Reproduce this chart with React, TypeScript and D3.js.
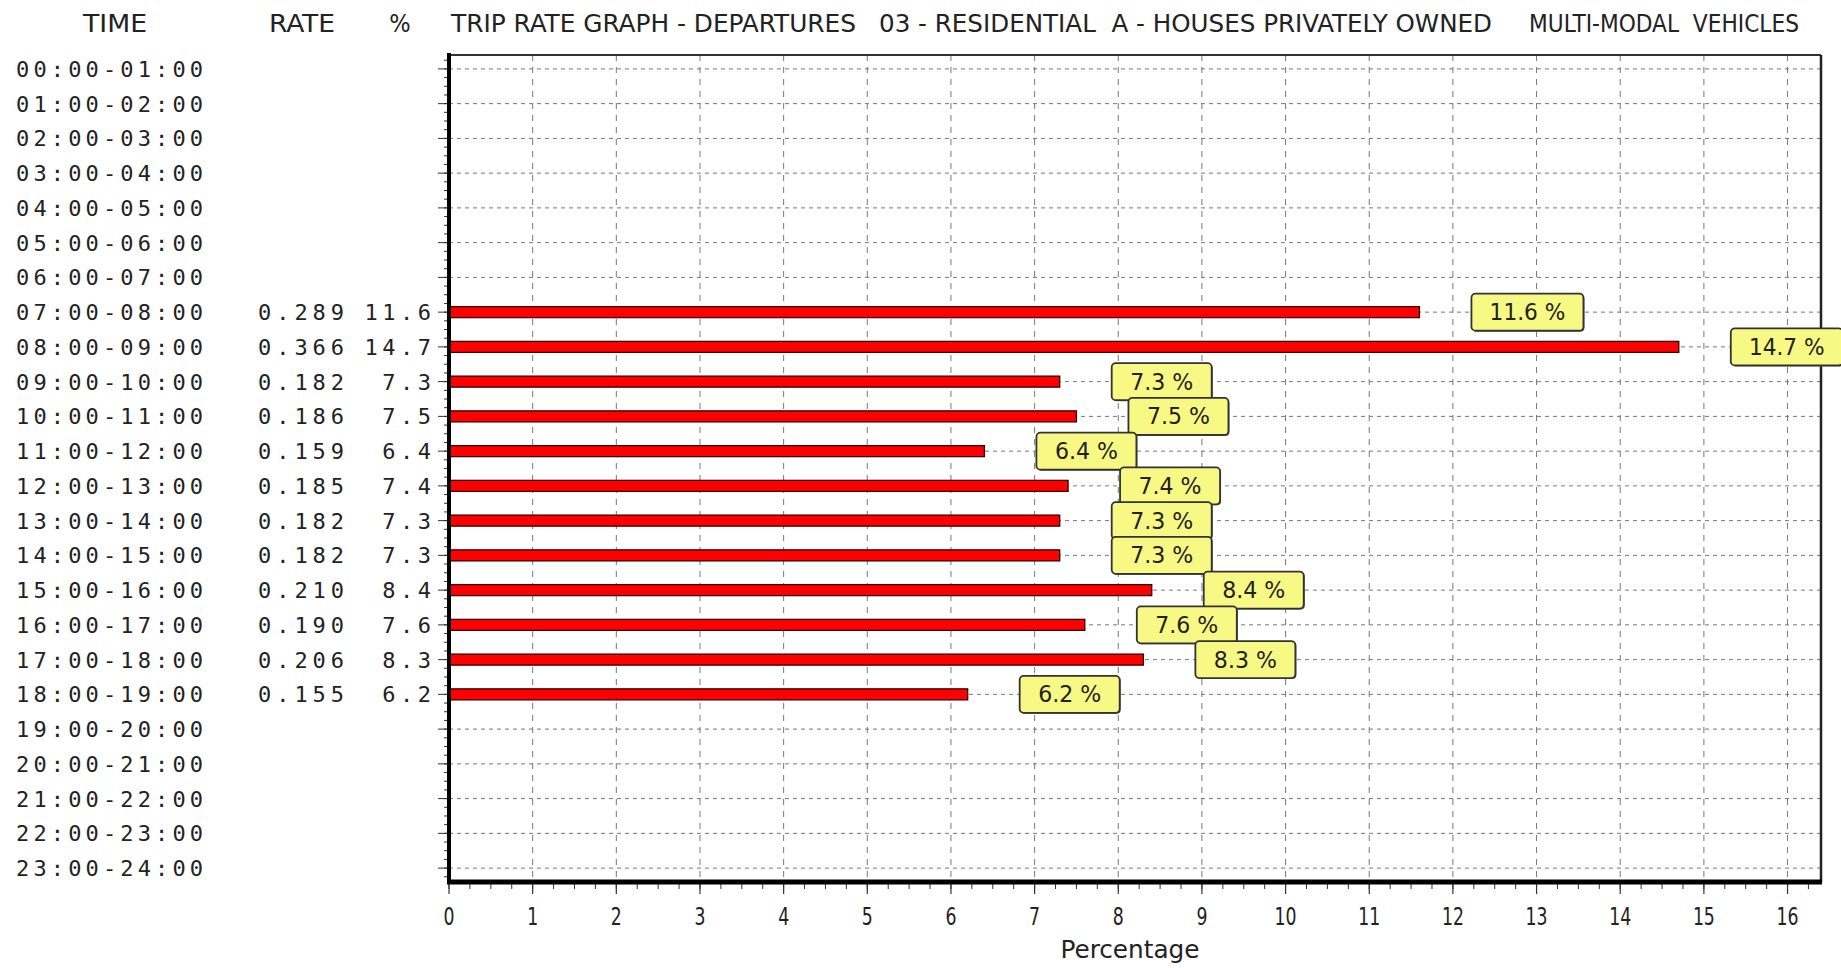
import React from "react";
import * as d3 from "d3";

const timeBands = [
  "00:00-01:00", "01:00-02:00", "02:00-03:00", "03:00-04:00", "04:00-05:00",
  "05:00-06:00", "06:00-07:00", "07:00-08:00", "08:00-09:00", "09:00-10:00",
  "10:00-11:00", "11:00-12:00", "12:00-13:00", "13:00-14:00", "14:00-15:00",
  "15:00-16:00", "16:00-17:00", "17:00-18:00", "18:00-19:00", "19:00-20:00",
  "20:00-21:00", "21:00-22:00", "22:00-23:00", "23:00-24:00",
];

const rateValues: (number | null)[] = [
  null, null, null, null, null, null, null,
  0.289, 0.366, 0.182, 0.186, 0.159, 0.185, 0.182, 0.182, 0.21, 0.19, 0.206, 0.155,
  null, null, null, null, null,
];

const percentValues: (number | null)[] = [
  null, null, null, null, null, null, null,
  11.6, 14.7, 7.3, 7.5, 6.4, 7.4, 7.3, 7.3, 8.4, 7.6, 8.3, 6.2,
  null, null, null, null, null,
];

const xTickValues = [0, 1, 2, 3, 4, 5, 6, 7, 8, 9, 10, 11, 12, 13, 14, 15, 16];

const titleParts = [
  { text: "TRIP RATE GRAPH - DEPARTURES", x0: 451, x1: 856 },
  { text: "03 - RESIDENTIAL  A - HOUSES PRIVATELY OWNED", x0: 879, x1: 1492 },
  { text: "MULTI-MODAL  VEHICLES", x0: 1529, x1: 1799 },
];

const W = 1841;
const H = 968;
const left = 449;
const right = 1821;
const top = 55;
const bottom = 882;

const mono = "'DejaVu Sans Mono', 'Liberation Mono', monospace";
const narrow = "'Liberation Sans Narrow', 'DejaVu Sans Condensed', 'Liberation Sans', Arial, sans-serif";

export default function App() {
  const x = d3.scaleLinear().domain([0, 16.4]).range([left, right]);
  const y = d3.scalePoint<string>().domain(timeBands).range([top, bottom]).padding(0.4);
  const step = y.step();
  const fmtRate = d3.format(".3f");
  const fmtPct = d3.format(".1f");

  const minorX = d3.range(0, 16.4, 0.25);
  const minorY = d3.range(top + step * 0.4 - step, bottom, step / 4).filter((v) => v > top && v < bottom);

  return (
    <svg
      width={W}
      height={H}
      style={{ position: "absolute", left: 0, top: 0, display: "block", background: "#fff" }}
    >
      {/* headers */}
      <text x={115} y={32} fontFamily={narrow} fontSize={25} textAnchor="middle" textLength={64} lengthAdjust="spacingAndGlyphs" fill="#222">TIME</text>
      <text x={302} y={32} fontFamily={narrow} fontSize={25} textAnchor="middle" textLength={66} lengthAdjust="spacingAndGlyphs" fill="#222">RATE</text>
      <text x={400} y={32} fontFamily={narrow} fontSize={25} textAnchor="middle" fill="#222">%</text>
      {titleParts.map((p) => (
        <text key={p.text} x={p.x0} y={32} fontFamily={narrow} fontSize={25} textLength={p.x1 - p.x0} lengthAdjust="spacingAndGlyphs" fill="#222" xmlSpace="preserve">
          {p.text}
        </text>
      ))}

      {/* horizontal grid */}
      {timeBands.map((t) => (
        <line key={"hg" + t} x1={left} x2={right} y1={y(t)} y2={y(t)} stroke="#777" strokeWidth={1} strokeDasharray="4 4" />
      ))}
      {/* vertical grid */}
      {xTickValues.filter((v) => v > 0).map((v) => (
        <line key={"vg" + v} x1={x(v)} x2={x(v)} y1={top} y2={bottom} stroke="#777" strokeWidth={1} strokeDasharray="6 6" />
      ))}

      {/* bars */}
      {timeBands.map((t, i) => {
        const v = percentValues[i];
        if (v == null) return null;
        return (
          <rect key={"b" + t} x={x(0)} y={(y(t) as number) - 5.5} width={x(v) - x(0)} height={11} fill="#f00" stroke="#300" strokeWidth={1.3} />
        );
      })}

      {/* frame */}
      <line x1={left} x2={right} y1={top} y2={top} stroke="#333" strokeWidth={2} />
      <line x1={right} x2={right} y1={top} y2={bottom} stroke="#222" strokeWidth={2.5} />
      {/* left axis ticks */}
      {minorY.map((v, i) => (
        <line key={"my" + i} x1={left - 5} x2={left} y1={v} y2={v} stroke="#333" strokeWidth={1} />
      ))}
      {timeBands.map((t) => (
        <line key={"ty" + t} x1={left - 11} x2={left} y1={y(t)} y2={y(t)} stroke="#333" strokeWidth={1} />
      ))}
      {/* bottom axis ticks */}
      {minorX.map((v, i) => (
        <line key={"mx" + i} x1={x(v)} x2={x(v)} y1={bottom} y2={bottom + 7} stroke="#333" strokeWidth={1} />
      ))}
      {xTickValues.map((v) => (
        <line key={"tx" + v} x1={x(v)} x2={x(v)} y1={bottom} y2={bottom + 12} stroke="#333" strokeWidth={1.2} />
      ))}
      <line x1={left} x2={left} y1={top - 2} y2={bottom + 2} stroke="#000" strokeWidth={4} />
      <line x1={left - 2} x2={right + 1} y1={bottom} y2={bottom} stroke="#000" strokeWidth={5} />

      {/* x tick labels */}
      {xTickValues.map((v) => (
        <text key={"xl" + v} x={x(v)} y={925} fontFamily={narrow} fontSize={25} textAnchor="middle" textLength={String(v).length * 11} lengthAdjust="spacingAndGlyphs" fill="#222">
          {v}
        </text>
      ))}
      <text x={1130} y={958} fontFamily={narrow} fontSize={24} textAnchor="middle" textLength={139} lengthAdjust="spacingAndGlyphs" fill="#222">Percentage</text>

      {/* left table */}
      {timeBands.map((t, i) => {
        const cy = y(t) as number;
        const r = rateValues[i];
        const p = percentValues[i];
        const ps = p == null ? "" : fmtPct(p);
        return (
          <g key={"row" + t} fontFamily={mono} fontSize={22} fill="#222">
            <text x={16} y={cy + 8} textLength={187} lengthAdjust="spacing">{t}</text>
            {r != null && <text x={258} y={cy + 8} textLength={86} lengthAdjust="spacing">{fmtRate(r)}</text>}
            {p != null && (
              <text x={431} y={cy + 8} textAnchor="end" textLength={ps.length * 17.6 - 4} lengthAdjust="spacing">{ps}</text>
            )}
          </g>
        );
      })}

      {/* value labels */}
      {timeBands.map((t, i) => {
        const v = percentValues[i];
        if (v == null) return null;
        const label = `${fmtPct(v)} %`;
        const bw = 40 + 12 * label.length;
        const bx = x(v) + 52;
        const cy = y(t) as number;
        return (
          <g key={"lb" + t}>
            <rect x={bx + 1} y={cy - 17.5} width={bw} height={37} rx={4} fill="#555" />
            <rect x={bx} y={cy - 18.5} width={bw} height={37} rx={4} fill="#f8f884" stroke="#333" strokeWidth={1.8} />
            <text x={bx + bw / 2} y={cy + 8} fontFamily={narrow} fontSize={23} textAnchor="middle" textLength={label.length * 12.6} lengthAdjust="spacingAndGlyphs" fill="#222">
              {label}
            </text>
          </g>
        );
      })}
    </svg>
  );
}
